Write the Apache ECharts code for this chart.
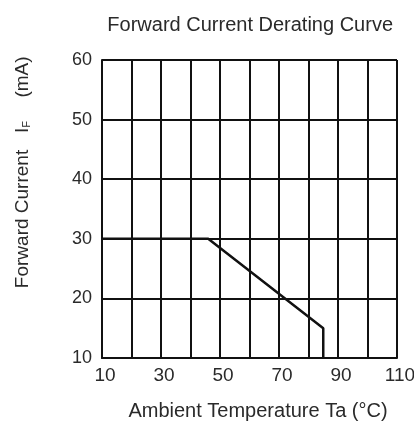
<!DOCTYPE html>
<html>
<head>
<meta charset="utf-8">
<script src="https://cdn.jsdelivr.net/npm/echarts@6/dist/echarts.min.js"></script>
<style>html,body{margin:0;padding:0;background:#fff}#c{width:414px;height:423px}</style>
</head>
<body>
<div id="c"></div>
<script>
const temperature = [10, 46, 85, 85];
const current = [30, 30, 15, 10];
const xTicks = [10, 30, 50, 70, 90, 110];
const yTicks = [10, 20, 30, 40, 50, 60];
const titleText = 'Forward Current Derating Curve';
const xName = 'Ambient Temperature Ta (°C)';
const yNameParts = ['Forward Current', 'I{sub|F}', '(mA)'];

const FONT = '"Liberation Sans", Arial, sans-serif';
const TXT = '#2a2a2a';
const chart = echarts.init(document.getElementById('c'));
const yNameCenters = [219, 127, 77];
chart.setOption({
  animation: false,
  backgroundColor: '#fff',
  title: {
    text: titleText, right: 16, top: 10,
    textStyle: {fontFamily: FONT, fontSize: 20, fontWeight: 'normal', color: TXT}
  },
  grid: {left: 102, right: 17, top: 60, bottom: 65, containLabel: false, outerBoundsMode: 'none'},
  xAxis: {
    type: 'value', min: 10, max: 110, interval: 10,
    axisLine: {show: true, lineStyle: {color: '#111', width: 2}},
    axisTick: {show: false},
    splitLine: {show: true, lineStyle: {color: '#111', width: 2}},
    axisLabel: {
      margin: 8, fontFamily: FONT, fontSize: 19, color: TXT, showMaxLabel: true,
      padding: [0, 0, 0, 6], hideOverlap: false,
      formatter: v => xTicks.includes(v) ? String(v) : ''
    }
  },
  yAxis: {
    type: 'value', min: 10, max: 60, interval: 10,
    axisLine: {show: true, lineStyle: {color: '#111', width: 2}},
    axisTick: {show: false},
    splitLine: {show: true, lineStyle: {color: '#111', width: 2}},
    axisLabel: {
      margin: 10, fontFamily: FONT, fontSize: 18, color: TXT,
      formatter: v => yTicks.includes(v) ? String(v) : ''
    }
  },
  graphic: yNameParts.map((t, i) => ({
    type: 'text', x: 23, y: yNameCenters[i], rotation: Math.PI / 2,
    style: {
      text: t, fontFamily: FONT, fontSize: 19, fill: TXT,
      align: 'center', verticalAlign: 'middle',
      rich: {sub: {fontFamily: FONT, fontSize: 11, fill: TXT, padding: [8, 0, 0, 0]}}
    }
  })).concat([{
    type: 'text', x: 258, y: 411,
    style: {
      text: xName, fontFamily: FONT, fontSize: 20, fill: TXT,
      align: 'center', verticalAlign: 'middle'
    }
  }]),
  series: [{
    type: 'line',
    data: temperature.map((t, i) => [t, current[i]]),
    symbol: 'none',
    lineStyle: {color: '#111', width: 2.5},
    z: 5
  }]
});
</script>
</body>
</html>
